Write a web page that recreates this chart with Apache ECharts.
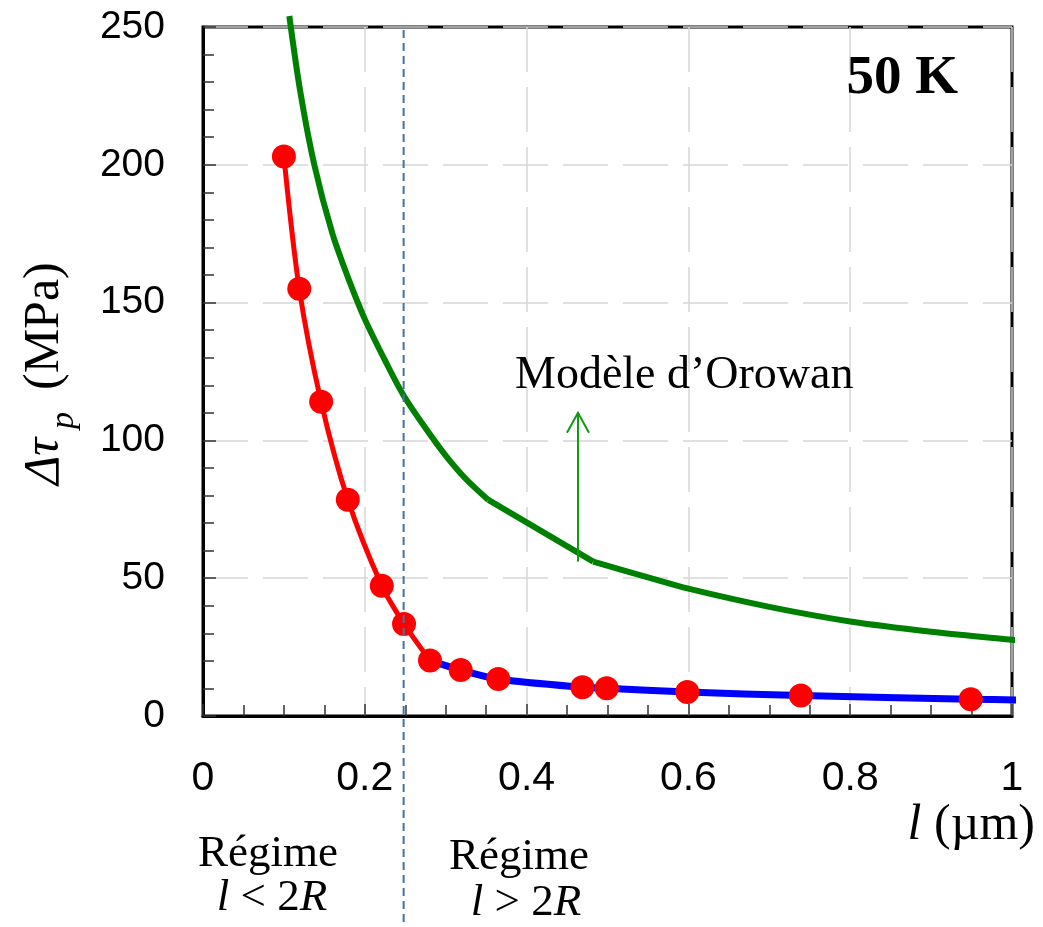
<!DOCTYPE html>
<html>
<head>
<meta charset="utf-8">
<script src="https://cdn.jsdelivr.net/npm/echarts@6/dist/echarts.min.js"></script>
<style>
  html, body { margin: 0; padding: 0; background: #fff; }
  #chart { width: 1043px; height: 927px; }
</style>
</head>
<body>
<div id="chart"></div>
<script>
// Measured obstacle spacing l (µm) and stress increment Δτp (MPa) at 50 K
const spacingL  = [0.100, 0.119, 0.146, 0.179, 0.221, 0.2485, 0.2806, 0.3185, 0.365, 0.469, 0.499, 0.5986, 0.739, 0.949];
const stressMPa = [203,   155,   114,   78.5,  47.3,  33.4,   20.1,   16.7,   13.4,  10.4,  10.1,  8.7,    7.4,   6.1];

// Fit through the short-spacing regime (l < 2R)
const fitShortL   = [0.100, 0.119, 0.146, 0.179, 0.221, 0.2485, 0.2806];
const fitShortTau = [203,   155,   114,   78.5,  47.3,  33.4,   20.1];

// Fit through the long-spacing regime (l > 2R)
const fitLongL   = [0.2806, 0.3185, 0.365, 0.469, 0.499, 0.5986, 0.739, 0.949, 1.014];
const fitLongTau = [20.1,   16.7,   13.4,  10.4,  10.1,  8.7,    7.4,   6.1,   5.8];

// Orowan model curve
const orowanL   = [0.1067, 0.120, 0.1376, 0.160, 0.180, 0.200, 0.225, 0.2476, 0.275, 0.300, 0.325, 0.3527, 0.4824, 0.550, 0.600, 0.700, 0.800, 0.900, 1.000, 1.014];
const orowanTau = [254,    227,   200,    175,   158.5, 144,   129,   116.5,  104.5, 94.5,  86,    78.4,   56.0,   50.3,  46.2,  39.6,  34.3,  30.6,  27.7,  27.4];
// indices where the model curve has corners
const orowanCorners = [11, 12];

// Boundary between the two regimes (l = 2R)
const regimeBoundary = 0.248;

// Axis scales
const xMin = 0, xMax = 1, xStep = 0.2;
const yMin = 0, yMax = 250, yStep = 50;

const serif = '"Liberation Serif", "Times New Roman", serif';
const sans = '"Liberation Sans", Arial, sans-serif';

const pairs = (xs, ys) => xs.map((x, i) => [x, ys[i]]);
const orowanPts = pairs(orowanL, orowanTau);

const chart = echarts.init(document.getElementById('chart'), null, { renderer: 'canvas' });

const tickStyle = { color: '#333', width: 1.5 };
const gridStyle = { color: '#d6d6d6', width: 1.5, type: [45, 15] };

const greenLine = (data, smooth) => ({
  type: 'line', data, smooth, showSymbol: false, clip: false, z: 3,
  lineStyle: { color: '#008000', width: 6 }
});

chart.setOption({
  animation: false,
  backgroundColor: '#fff',
  grid: { left: 203, right: 31, top: 27, bottom: 211, show: true, borderColor: '#000', borderWidth: 3 },
  xAxis: {
    type: 'value', min: xMin, max: xMax, interval: xStep,
    axisLine: { show: true, lineStyle: { color: '#000', width: 3 } },
    axisTick: { show: true, inside: true, length: 12, lineStyle: tickStyle },
    minorTick: { show: true, splitNumber: 4, length: 11, lineStyle: tickStyle },
    splitLine: { show: true, lineStyle: gridStyle },
    axisLabel: { fontSize: 41, fontFamily: sans, color: '#000', margin: 42 }
  },
  yAxis: {
    type: 'value', min: yMin, max: yMax, interval: yStep,
    axisLine: { show: true, lineStyle: { color: '#000', width: 3 } },
    axisTick: { show: true, inside: true, length: 13, lineStyle: tickStyle },
    minorTick: { show: true, splitNumber: 5, length: 11, lineStyle: tickStyle },
    splitLine: { show: true, lineStyle: gridStyle },
    axisLabel: { fontSize: 39, fontFamily: sans, color: '#000', margin: 38 }
  },
  series: [
    greenLine(orowanPts.slice(0, orowanCorners[0] + 1), 0.3),
    greenLine(orowanPts.slice(orowanCorners[0], orowanCorners[1] + 1), false),
    greenLine(orowanPts.slice(orowanCorners[1]), 0.3),
    {
      type: 'line', data: pairs(fitShortL, fitShortTau), smooth: 0.3, showSymbol: false, z: 4,
      lineStyle: { color: '#ff0000', width: 5 }
    },
    {
      type: 'line', data: pairs(fitLongL, fitLongTau), smooth: 0.3, showSymbol: false, clip: false, z: 4,
      lineStyle: { color: '#0000ff', width: 7 }
    },
    {
      type: 'scatter', data: pairs(spacingL, stressMPa), symbol: 'circle', symbolSize: 24, z: 6,
      itemStyle: { color: '#ff0000', opacity: 1 }
    }
  ]
});

// Annotations placed through the axis scales
const px = (x, y) => chart.convertToPixel({ gridIndex: 0 }, [x, y]);
const bTop = px(regimeBoundary, yMax);
const arrowBase = px(0.4635, 56);
const arrowTip = px(0.4635, 110);
const arrowGreen = '#119911';

chart.setOption({
  graphic: [
    // regime boundary, running down through the labels
    {
      type: 'line', z: 10,
      shape: { x1: bTop[0], y1: bTop[1] + 3, x2: bTop[0], y2: 927 },
      style: { stroke: '#44729f', lineWidth: 2, lineDash: [8, 5] }
    },
    // arrow from the model curve to its label
    {
      type: 'line', z: 10,
      shape: { x1: arrowBase[0], y1: arrowBase[1], x2: arrowTip[0], y2: arrowTip[1] },
      style: { stroke: arrowGreen, lineWidth: 2 }
    },
    {
      type: 'polyline', z: 10,
      shape: { points: [[arrowTip[0] - 11, arrowTip[1] + 20], [arrowTip[0], arrowTip[1]], [arrowTip[0] + 11, arrowTip[1] + 20]] },
      style: { stroke: arrowGreen, lineWidth: 2, fill: null }
    },
    {
      type: 'text', z: 10, x: 958, y: 79,
      style: { text: '50 K', font: 'bold 55px ' + serif, fill: '#000', align: 'right', verticalAlign: 'middle' }
    },
    {
      type: 'text', z: 10, x: 515, y: 376,
      style: { text: 'Modèle d’Orowan', font: '46px ' + serif, fill: '#000', align: 'left', verticalAlign: 'middle' }
    },
    // x axis title
    {
      type: 'text', z: 10, x: 1035, y: 826,
      style: {
        text: '{i|l} (µm)', font: '50px ' + serif, fill: '#000', align: 'right', verticalAlign: 'middle',
        rich: { i: { fontStyle: 'italic', fontSize: 50, fontFamily: serif } }
      }
    },
    // regime labels
    {
      type: 'text', z: 10, x: 268, y: 854,
      style: { text: 'Régime', font: '45px ' + serif, fill: '#000', align: 'center', verticalAlign: 'middle' }
    },
    {
      type: 'text', z: 10, x: 272, y: 898,
      style: {
        text: '{i|l} < 2{i|R}', font: '45px ' + serif, fill: '#000', align: 'center', verticalAlign: 'middle',
        rich: { i: { fontStyle: 'italic', fontSize: 45, fontFamily: serif } }
      }
    },
    {
      type: 'text', z: 10, x: 519, y: 857,
      style: { text: 'Régime', font: '45px ' + serif, fill: '#000', align: 'center', verticalAlign: 'middle' }
    },
    {
      type: 'text', z: 10, x: 526, y: 903,
      style: {
        text: '{i|l} > 2{i|R}', font: '45px ' + serif, fill: '#000', align: 'center', verticalAlign: 'middle',
        rich: { i: { fontStyle: 'italic', fontSize: 45, fontFamily: serif } }
      }
    },
    // y axis title, reading bottom to top
    {
      type: 'group', x: 62, y: 485, rotation: Math.PI / 2, z: 10,
      children: [
        { type: 'text', x: 0, y: -17, style: { text: 'Δτ', font: 'italic 50px ' + serif, fill: '#000', verticalAlign: 'middle' } },
        { type: 'text', x: 56, y: 2, style: { text: 'p', font: 'italic 34px ' + serif, fill: '#000', verticalAlign: 'middle' } },
        { type: 'text', x: 95, y: -17, style: { text: '(MPa)', font: '50px ' + serif, fill: '#000', verticalAlign: 'middle' } }
      ]
    }
  ]
});
</script>
</body>
</html>
